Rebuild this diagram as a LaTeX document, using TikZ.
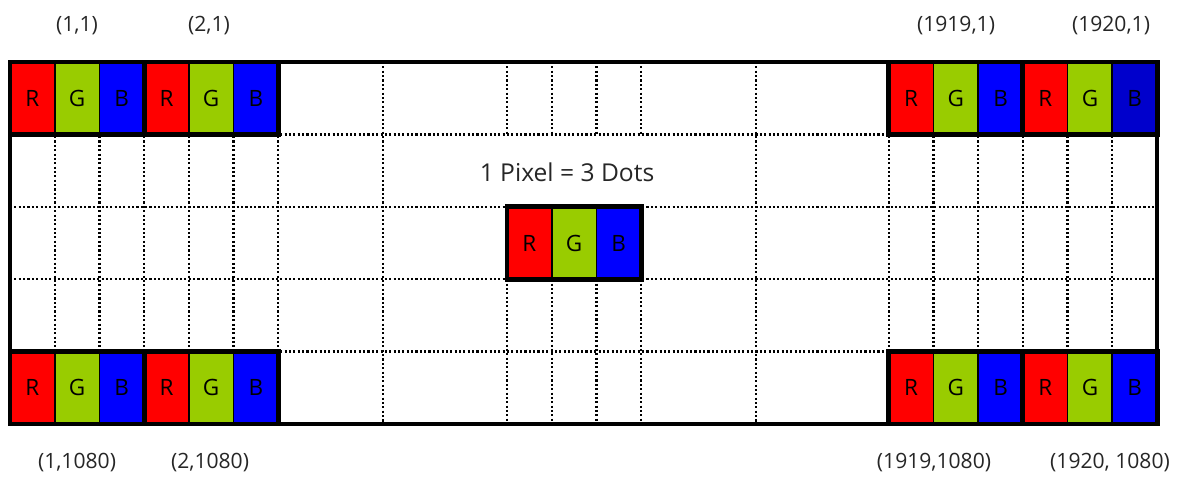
\documentclass[tikz,border=0pt]{standalone}
\usepackage{fontspec}
\setmainfont{Open Sans}
\usetikzlibrary{positioning}
\definecolor{dotred}{HTML}{FF0000}
\definecolor{dotgreen}{HTML}{99CC00}
\definecolor{dotblue}{HTML}{0000FF}
\definecolor{dotdarkblue}{HTML}{0000CC}

\begin{document}
\begin{tikzpicture}[x=0.025cm, y=-0.025cm, node distance=0pt,
        dotcell/.style={draw, rectangle, line width=1.2pt, minimum width=1.1175cm, minimum height=1.81cm,
            inner sep=0pt, outer sep=0pt, font=\fontsize{16}{19}\selectfont},
        grid/.style={line width=1.6pt, dash pattern=on 1.5pt off 1.6pt},
        frame/.style={line width=3.5pt},
        lbl/.style={text=black!85, font=\fontsize{15}{18}\selectfont}]
        \useasboundingbox (0,0) rectangle (1184,479);

        % dotted grid
        \foreach \y in {134.4, 206.8, 279.2, 351.6}
            \draw[grid] (10,\y) -- (1157,\y);
        \foreach \x in {54.7, 99.4, 144.1, 188.8, 233.5, 278.2, 383, 756, 888.8, 933.5, 978.2, 1022.9, 1067.6, 1112.3}
            \draw[grid] (\x,62) -- (\x,424);
        % no lines under the text
        \foreach \x in {507, 551.7, 596.4, 641.1} {
            \draw[grid] (\x,62) -- (\x,134.4);
            \draw[grid] (\x,279.2) -- (\x,424);
        }

        % pixels
        \foreach \px/\py/\n/\bc in {10/62/a/dotblue, 144.1/62/b/dotblue, 888.8/62/c/dotblue, 1022.9/62/d/dotdarkblue,
                10/351.6/e/dotblue, 144.1/351.6/f/dotblue, 888.8/351.6/g/dotblue, 1022.9/351.6/h/dotblue, 507/206.8/m/dotblue} {
            \node[dotcell, fill=dotred, anchor=north west] (\n-r) at (\px,\py) {R};
            \node[dotcell, fill=dotgreen, right=of \n-r] (\n-g) {G};
            \node[dotcell, fill=\bc, right=of \n-g] (\n-b) {B};
            \draw[frame] (\n-r.north west) rectangle (\n-b.south east);
        }

        \draw[frame] (10,62) rectangle (1157,424);

        \node[lbl, font=\fontsize{17.5}{20}\selectfont] (title) at (567,172) {1 Pixel = 3 Dots};

        \node[lbl] (la) at (77,26) {(1,1)};
        \node[lbl] (lb) at (209,26) {(2,1)};
        \node[lbl] (lc) at (956,26) {(1919,1)};
        \node[lbl] (ld) at (1111,26) {(1920,1)};
        \node[lbl] (le) at (77,463) {(1,1080)};
        \node[lbl] (lf) at (210,463) {(2,1080)};
        \node[lbl] (lg) at (934,463) {(1919,1080)};
        \node[lbl] (lh) at (1110,463) {(1920, 1080)};
    \end{tikzpicture}
\end{document}
